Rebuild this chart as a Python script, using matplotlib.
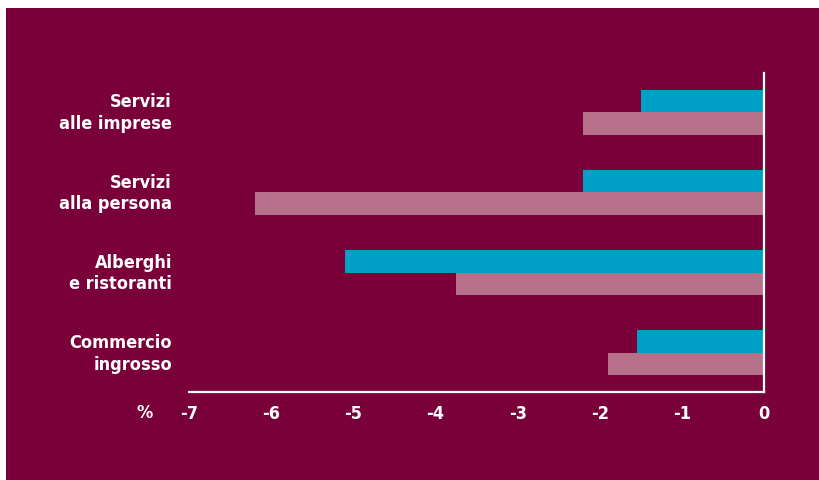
import matplotlib
matplotlib.use("Agg")
import matplotlib.pyplot as plt
import numpy as np

categories = ["Servizi\nalle imprese", "Servizi\nalla persona", "Alberghi\ne ristoranti", "Commercio\ningrosso"]
series_a = [-1.5, -2.2, -5.1, -1.55]   # teal
series_b = [-2.2, -6.2, -3.75, -1.9]   # pink
xticks = [-7, -6, -5, -4, -3, -2, -1, 0]

BG = "#7a0039"
TEAL = "#00a0c6"
PINK = "#b67089"
W = 819
H = 481

fig = plt.figure(figsize=(W / 100, H / 100), dpi=100)
fig.patch.set_facecolor("white")
bgax = fig.add_axes([6 / W, 0, 1 - 6 / W, 1 - 9 / H])
bgax.set_facecolor(BG)
bgax.set_xticks([]); bgax.set_yticks([])
for s in bgax.spines.values():
    s.set_visible(False)

font = dict(family="DejaVu Sans", stretch="condensed", weight="bold", color="white")

ax = fig.add_axes([189 / W, 1 - 393 / H, (764 - 189) / W, (393 - 74) / H])
ax.set_facecolor("none")
y = np.arange(len(categories))
h = 0.28
ax.barh(y - h / 2, series_a, height=h, color=TEAL)
ax.barh(y + h / 2, series_b, height=h, color=PINK)
ax.set_xlim(-7, 0)
ax.set_ylim(3.4875, -0.4875)
for k in ["left", "top"]:
    ax.spines[k].set_visible(False)
for k in ["bottom", "right"]:
    ax.spines[k].set_color("white")
    ax.spines[k].set_linewidth(1.6)
ax.set_xticks(xticks)
ax.set_xticklabels([str(t) for t in xticks], fontsize=13, **font)
ax.tick_params(axis="x", length=0, pad=9)
ax.set_yticks([])
for yi, c in zip(y, categories):
    ax.text(-0.0296, yi, c, transform=ax.get_yaxis_transform(), ha="right", va="center",
            fontsize=13, linespacing=1.25, **font)
ax.text(145 / W, 1 - 413 / H, "%", transform=fig.transFigure, ha="center", va="center",
        fontsize=13, **font)

fig.savefig("out.png", dpi=100, facecolor=fig.get_facecolor())
